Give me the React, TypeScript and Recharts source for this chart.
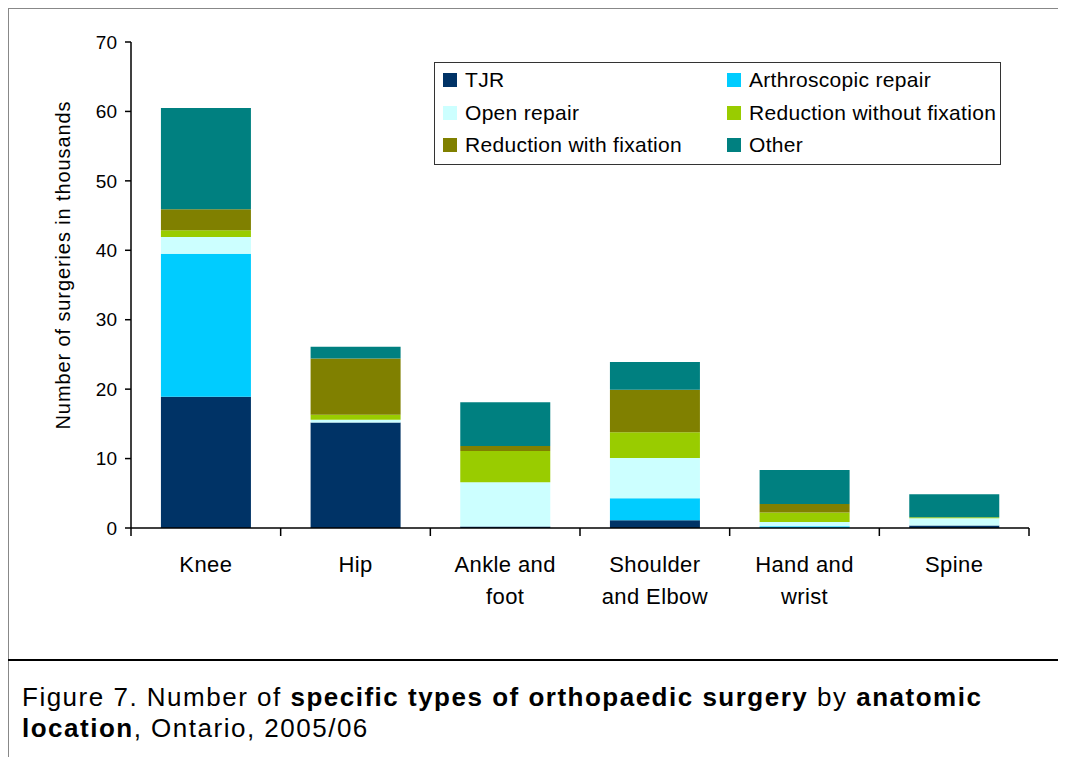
import React from 'react';
import { BarChart, Bar, XAxis, YAxis, Legend, Label } from 'recharts';

// anatomic locations ("\n" marks where the axis label wraps)
const categories = ['Knee', 'Hip', 'Ankle and\nfoot', 'Shoulder\nand Elbow', 'Hand and\nwrist', 'Spine'];

// surgeries in thousands
const tjr = [18.9, 15.2, 0.2, 1.1, 0, 0.35];
const arthroscopic = [20.6, 0, 0, 3.2, 0.25, 0];
const openRepair = [2.4, 0.4, 6.4, 5.8, 0.6, 1.05];
const reductionWithout = [1.0, 0.7, 4.5, 3.7, 1.4, 0.15];
const reductionWith = [3.0, 8.1, 0.7, 6.1, 1.2, 0];
const other = [14.6, 1.7, 6.3, 4.0, 4.9, 3.3];

const seriesKeys = ['tjr', 'arthroscopic', 'open', 'redWithout', 'redWith', 'other'];
const seriesNames = ['TJR', 'Arthroscopic repair', 'Open repair', 'Reduction without fixation', 'Reduction with fixation', 'Other'];
const seriesValues = [tjr, arthroscopic, openRepair, reductionWithout, reductionWith, other];
const seriesColors = ['#003366', '#00CCFF', '#CCFFFF', '#99CC00', '#808000', '#008080'];

const yTicks = [0, 10, 20, 30, 40, 50, 60, 70];

const data = categories.map((name, i) => {
  const row: any = { name };
  seriesKeys.forEach((k, s) => {
    row[k] = seriesValues[s][i];
  });
  return row;
});

const FONT = '"Liberation Sans", Arial, sans-serif';

function CategoryTick(props: any) {
  const { x, y, payload, index } = props;
  const half = payload.offset ?? 75;
  const lines = String(payload.value).split('\n');
  return (
    <g>
      <line x1={x - half} x2={x - half} y1={y} y2={y + 8} stroke="#000" strokeWidth={1.5} />
      {index === categories.length - 1 && (
        <line x1={x + half} x2={x + half} y1={y} y2={y + 8} stroke="#000" strokeWidth={1.5} />
      )}
      <text
        x={x}
        y={y + 36}
        textAnchor="middle"
        dominantBaseline="central"
        fontSize={22}
        letterSpacing={0.4}
        fill="#000"
        fontFamily={FONT}
      >
        {lines.map((l, i) => (
          <tspan key={i} x={x} dy={i === 0 ? 0 : 32}>
            {l}
          </tspan>
        ))}
      </text>
    </g>
  );
}

function YTitle(props: any) {
  const { viewBox } = props;
  const cx = viewBox.x + 2;
  const cy = viewBox.y + viewBox.height / 2 - 20;
  return (
    <text
      x={cx}
      y={cy}
      transform={`rotate(-90, ${cx}, ${cy})`}
      textAnchor="middle"
      dominantBaseline="central"
      fontSize={20}
      letterSpacing={0.9}
      fontFamily={FONT}
      fill="#000"
    >
      Number of surgeries in thousands
    </text>
  );
}

function LegendBox() {
  return (
    <div
      style={{
        width: 567,
        height: 103,
        border: '1px solid #333',
        background: '#fff',
        display: 'grid',
        gridTemplateColumns: '284px 270px',
        gridAutoRows: '32.5px',
        padding: '1px 0 0 8px',
        boxSizing: 'border-box',
        fontFamily: FONT,
        fontSize: 21,
        letterSpacing: 0.3,
        color: '#000',
      }}
    >
      {seriesNames.map((n, i) => (
        <div key={n} style={{ display: 'flex', alignItems: 'center', whiteSpace: 'nowrap' }}>
          <span style={{ width: 14, height: 14, background: seriesColors[i], marginRight: 8, flexShrink: 0 }} />
          {n}
        </div>
      ))}
    </div>
  );
}

export default function App() {
  return (
    <div
      style={{
        position: 'relative',
        width: 1058,
        height: 749,
        borderTop: '1px solid #888',
        borderLeft: '1px solid #888',
        background: '#fff',
        fontFamily: FONT,
      }}
    >
      <BarChart
        width={1057}
        height={640}
        data={data}
        margin={{ top: 33, right: 37, bottom: 31, left: 52 }}
        barCategoryGap="20%"
      >
        <XAxis
          dataKey="name"
          interval={0}
          height={90}
          tickSize={0}
          tickMargin={0}
          tickLine={false}
          axisLine={{ stroke: '#000', strokeWidth: 1.5 }}
          tick={<CategoryTick />}
        />
        <XAxis xAxisId="top" orientation="top" height={0} tick={false} tickLine={false} axisLine={{ stroke: '#808080' }} />
        <YAxis
          width={70}
          domain={[0, 70]}
          ticks={yTicks}
          interval={0}
          tickSize={6}
          tickMargin={8}
          tick={{ fontSize: 19, fill: '#000', fontFamily: FONT }}
          tickLine={{ stroke: '#000', strokeWidth: 1.5 }}
          axisLine={{ stroke: '#000', strokeWidth: 1.5 }}
        >
          <Label content={<YTitle />} />
        </YAxis>
        <YAxis yAxisId="right" orientation="right" width={0} tick={false} tickLine={false} axisLine={{ stroke: '#808080' }} />
        <Legend
          layout="horizontal"
          verticalAlign="middle"
          content={<LegendBox />}
          wrapperStyle={{ position: 'absolute', left: 425, top: 53, width: 'auto' }}
        />
        {seriesKeys.map((k, s) => (
          <Bar key={k} dataKey={k} name={seriesNames[s]} stackId="a" fill={seriesColors[s]} isAnimationActive={false} />
        ))}
      </BarChart>
      <div style={{ position: 'absolute', left: -1, right: 0, top: 650, borderTop: '2px solid #000' }} />
      <div
        style={{
          position: 'absolute',
          left: 13,
          top: 673,
          fontSize: 26,
          letterSpacing: 1.5,
          lineHeight: '31px',
          color: '#000',
          fontFamily: FONT,
        }}
      >
        Figure 7. Number of <b>specific types of orthopaedic surgery</b> by <b>anatomic</b>
        <br />
        <b>location</b>, Ontario, 2005/06
      </div>
    </div>
  );
}
